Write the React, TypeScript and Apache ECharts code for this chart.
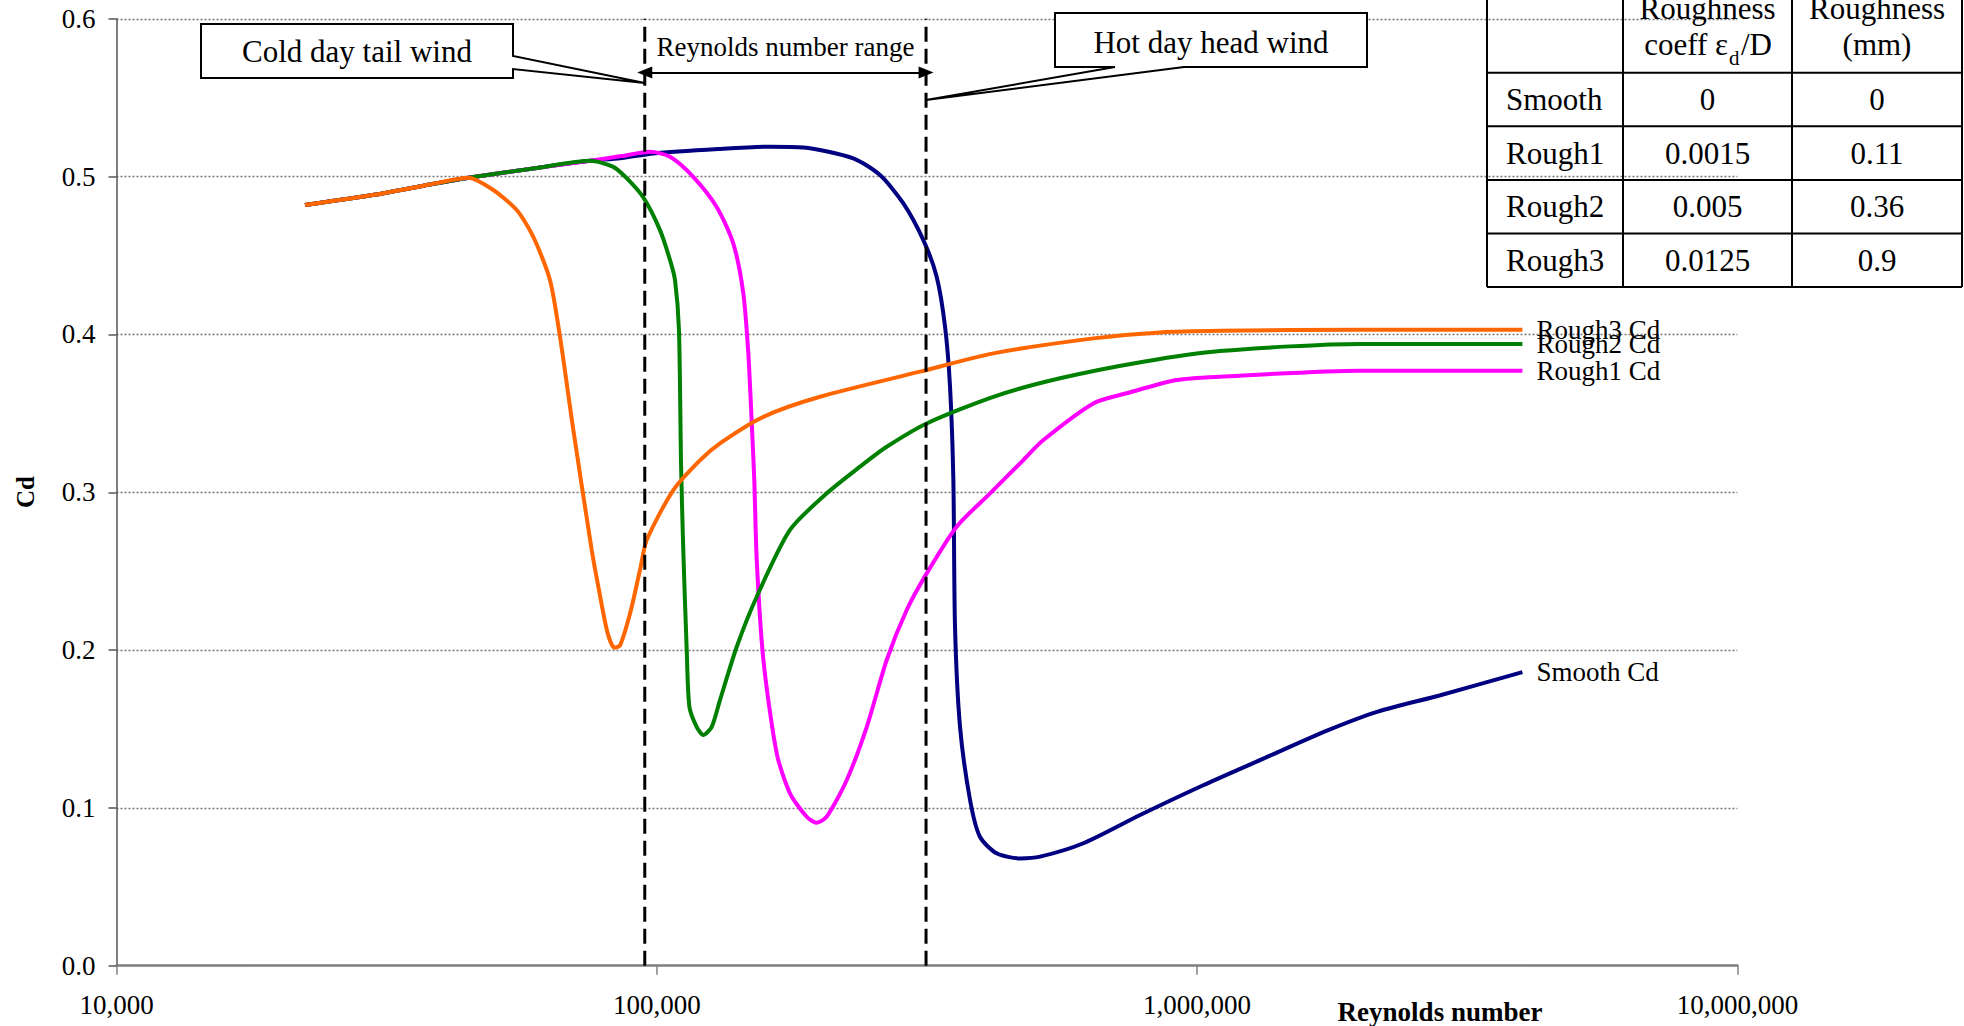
import React, { useEffect, useRef } from 'react';
import * as echarts from 'echarts';

const FONT = '"Liberation Serif", "Times New Roman", serif';

// Reynolds number (x) and drag coefficient (y)
const smoothRe = [22330, 30000, 38000, 44800, 60000, 75230, 85470, 98500, 130000, 162000, 186700, 231000, 258900, 286000, 311400, 329600, 341600, 348900, 353900, 356400, 364100, 380000, 396300, 425600, 470100, 512200, 615900, 784300, 1024000, 1336000, 1744000, 2160000, 2820000, 4000000];
const smoothCd = [0.482, 0.4885, 0.495, 0.4993, 0.5055, 0.510, 0.5116, 0.5147, 0.5175, 0.519, 0.5185, 0.5116, 0.501, 0.483, 0.4598, 0.4366, 0.4049, 0.3669, 0.3077, 0.2148, 0.1514, 0.105, 0.0817, 0.0712, 0.068, 0.0691, 0.0776, 0.0955, 0.1142, 0.1317, 0.1491, 0.161, 0.1714, 0.186];

const rough1Re = [22330, 30000, 38000, 44800, 60000, 75230, 86000, 97140, 105800, 116800, 129000, 138500, 144600, 147700, 149800, 151500, 153100, 157500, 166700, 176400, 189400, 197600, 206300, 224700, 244700, 266400, 290100, 315900, 358900, 413800, 476900, 519300, 642700, 740800, 916700, 1102000, 2000000, 4000000];
const rough1Cd = [0.482, 0.4885, 0.495, 0.4993, 0.5055, 0.510, 0.513, 0.5157, 0.5126, 0.4999, 0.4809, 0.4577, 0.426, 0.388, 0.3457, 0.3077, 0.257, 0.1937, 0.1346, 0.1092, 0.0944, 0.0906, 0.0944, 0.1177, 0.1514, 0.1937, 0.2254, 0.2486, 0.2782, 0.2993, 0.3204, 0.3331, 0.3563, 0.3627, 0.3711, 0.3732, 0.377, 0.377];

const rough2Re = [22330, 30000, 38000, 44800, 60000, 75230, 83080, 87960, 94410, 101370, 105800, 108070, 109900, 110880, 111940, 113600, 114900, 118500, 121900, 126400, 130900, 140600, 153100, 176400, 206300, 237700, 266400, 315900, 419700, 557500, 795300, 1102000, 2000000, 4000000];
const rough2Cd = [0.482, 0.4885, 0.495, 0.4993, 0.5055, 0.510, 0.5062, 0.499, 0.4868, 0.4661, 0.4471, 0.4345, 0.403, 0.3183, 0.2634, 0.2, 0.1641, 0.1514, 0.1462, 0.1514, 0.1683, 0.2021, 0.2338, 0.2761, 0.2993, 0.3162, 0.3288, 0.3436, 0.3605, 0.3722, 0.3827, 0.3895, 0.394, 0.394];

const rough3Re = [22330, 30000, 38000, 44800, 49830, 55050, 59070, 63420, 66200, 70070, 75780, 78070, 81060, 83500, 85500, 89200, 93090, 95800, 107300, 120300, 130900, 157500, 200500, 307000, 419700, 642700, 853800, 1102000, 2000000, 4000000];
const rough3Cd = [0.482, 0.4885, 0.495, 0.4993, 0.4915, 0.4788, 0.4619, 0.4345, 0.3985, 0.3394, 0.2634, 0.2389, 0.211, 0.2015, 0.203, 0.223, 0.2507, 0.2697, 0.3014, 0.3204, 0.331, 0.3478, 0.3605, 0.3764, 0.388, 0.3975, 0.4013, 0.4023, 0.403, 0.403];

// Reynolds number range limits (dashed lines) and the arrow level
const rangeRe = [95000, 315000];
const rangeCd = [0, 0.6];
const rangeArrowCd = 0.566;

// Axes
const yMin = 0;
const yMax = 0.6;
const yStep = 0.1;
const xMin = 10000;
const xMax = 10000000;

// Table
const tableHead1 = ['Roughness', 'Roughness'];
const tableRows = ['Smooth', 'Rough1', 'Rough2', 'Rough3'];
const tableCoeff = ['0', '0.0015', '0.005', '0.0125'];
const tableMm = ['0', '0.11', '0.36', '0.9'];

export default function App() {
  const ref = useRef<HTMLDivElement>(null);

  useEffect(() => {
    document.body.style.margin = '0';
    const chart = echarts.init(ref.current as HTMLDivElement, null, { renderer: 'svg' });
    const pair = (xs: number[], ys: number[]) => xs.map((x, i) => [x, ys[i]]);

    const curve = (name: string, color: string, xs: number[], ys: number[], z: number) => ({
      name,
      type: 'line',
      data: pair(xs, ys),
      showSymbol: false,
      symbol: 'none',
      smooth: 0.25,
      lineStyle: { color, width: 4 },
      itemStyle: { color },
      z,
      silent: true,
      emphasis: { disabled: true },
      endLabel: {
        show: true,
        formatter: '{a}',
        distance: 14,
        color: '#000',
        fontFamily: FONT,
        fontSize: 27,
      },
    });

    const dashed = (name: string, x: number) => ({
      name,
      type: 'line',
      data: [[x, rangeCd[0]], [x, rangeCd[1]]],
      showSymbol: false,
      symbol: 'none',
      silent: true,
      z: 6,
      lineStyle: { color: '#000', width: 3, type: [15, 7] },
      emphasis: { disabled: true },
    });

    const low = dashed('Range low', rangeRe[0]) as any;
    low.markLine = {
      silent: true,
      symbol: ['triangle', 'triangle'],
      symbolSize: [12, 15],
      label: { show: false },
      lineStyle: { color: '#000', type: 'solid', width: 2 },
      emphasis: { disabled: true },
      data: [[{ coord: [rangeRe[0], rangeArrowCd] }, { coord: [rangeRe[1], rangeArrowCd] }]],
    };

    chart.setOption({
      animation: false,
      textStyle: { fontFamily: FONT },
      grid: { left: 116.5, right: 226.6, top: 18.8, bottom: 60.3, containLabel: false },
      xAxis: {
        type: 'log',
        logBase: 10,
        min: xMin,
        max: xMax,
        axisLine: { show: true, lineStyle: { color: '#808080', width: 2.5 } },
        axisTick: { show: true, length: 9, lineStyle: { color: '#808080', width: 1.5 } },
        axisLabel: {
          formatter: (v: number) => Math.round(v).toLocaleString('en-US'),
          fontSize: 27,
          color: '#000',
          margin: 26,
          fontFamily: FONT,
          showMinLabel: true,
          showMaxLabel: true,
        },
        splitLine: { show: false },
        minorTick: { show: false },
      },
      yAxis: {
        type: 'value',
        min: yMin,
        max: yMax,
        interval: yStep,
        axisLine: { show: true, lineStyle: { color: '#555', width: 1.5 } },
        axisTick: { show: true, length: 8, lineStyle: { color: '#555', width: 1.5 } },
        axisLabel: {
          formatter: (v: number) => v.toFixed(1),
          fontSize: 27,
          color: '#000',
          margin: 21,
          fontFamily: FONT,
        },
        splitLine: { show: true, lineStyle: { color: '#777', type: [2, 2], width: 1.3 } },
      },
      series: [
        curve('Smooth Cd', '#000080', smoothRe, smoothCd, 2),
        curve('Rough1 Cd', '#FF00FF', rough1Re, rough1Cd, 3),
        curve('Rough2 Cd', '#008000', rough2Re, rough2Cd, 4),
        curve('Rough3 Cd', '#FF6600', rough3Re, rough3Cd, 5),
        low,
        dashed('Range high', rangeRe[1]),
      ],
    });

    const px = (re: number, cd: number) => chart.convertToPixel({ gridIndex: 0 }, [re, cd]) as number[];
    const lowX = px(rangeRe[0], 0.3)[0];
    const highX = px(rangeRe[1], 0.3)[0];

    const txt = (text: string, x: number, y: number, size: number, align = 'center', extra: any = {}) => ({
      type: 'text',
      x,
      y,
      z: 101,
      silent: true,
      rotation: extra.rotation || 0,
      style: {
        text,
        fill: '#000',
        fontFamily: FONT,
        fontSize: size,
        fontWeight: extra.bold ? 'bold' : 'normal',
        align,
        verticalAlign: 'middle',
        textAlign: align,
        textVerticalAlign: 'middle',
      },
    });

    const graphic: any[] = [];
    // callouts
    graphic.push({
      type: 'polygon',
      z: 100,
      silent: true,
      shape: { points: [[201, 24], [513, 24], [513, 56], [lowX, 83], [513, 69], [513, 78], [201, 78]] },
      style: { fill: '#fff', stroke: '#000', lineWidth: 2 },
    });
    graphic.push(txt('Cold day tail wind', 357, 51, 31));
    graphic.push({
      type: 'polygon',
      z: 100,
      silent: true,
      shape: { points: [[1055, 13], [1367, 13], [1367, 67], [1184, 67], [highX, 100], [1115, 67], [1055, 67]] },
      style: { fill: '#fff', stroke: '#000', lineWidth: 2 },
    });
    graphic.push(txt('Hot day head wind', 1211, 42, 31));
    graphic.push(txt('Reynolds number range', (lowX + highX) / 2, 47, 27));

    // axis titles
    graphic.push(txt('Cd', 25, 492, 25, 'center', { rotation: Math.PI / 2, bold: true }));
    graphic.push(txt('Reynolds number', 1440, 1012, 27, 'center', { bold: true }));

    // table
    const colX = [1487, 1623, 1792, 1962];
    const rowY = [-6, 72.7, 126.3, 180, 233.5, 287];
    colX.forEach((x) =>
      graphic.push({ type: 'line', z: 100, silent: true, shape: { x1: x, y1: rowY[0], x2: x, y2: rowY[rowY.length - 1] }, style: { stroke: '#000', lineWidth: 2 } })
    );
    rowY.forEach((y) =>
      graphic.push({ type: 'line', z: 100, silent: true, shape: { x1: colX[0], y1: y, x2: colX[colX.length - 1], y2: y }, style: { stroke: '#000', lineWidth: 2 } })
    );
    const c1 = (colX[1] + colX[2]) / 2;
    const c2 = (colX[2] + colX[3]) / 2;
    graphic.push(txt(tableHead1[0], c1, 8, 31));
    graphic.push(txt(tableHead1[1], c2, 8, 31));
    graphic.push(txt('coeff ε', 1728, 44.7, 31, 'right'));
    graphic.push(txt('d', 1729, 58, 21, 'left'));
    graphic.push(txt('/D', 1741, 44.7, 31, 'left'));
    graphic.push(txt('(mm)', c2, 44.7, 31));
    tableRows.forEach((r, i) => {
      const yc = (rowY[i + 1] + rowY[i + 2]) / 2;
      graphic.push(txt(r, 1506, yc, 31, 'left'));
      graphic.push(txt(tableCoeff[i], c1, yc, 31));
      graphic.push(txt(tableMm[i], c2, yc, 31));
    });

    chart.setOption({ graphic });

    return () => chart.dispose();
  }, []);

  return <div ref={ref} style={{ width: 1964, height: 1026 }} />;
}
